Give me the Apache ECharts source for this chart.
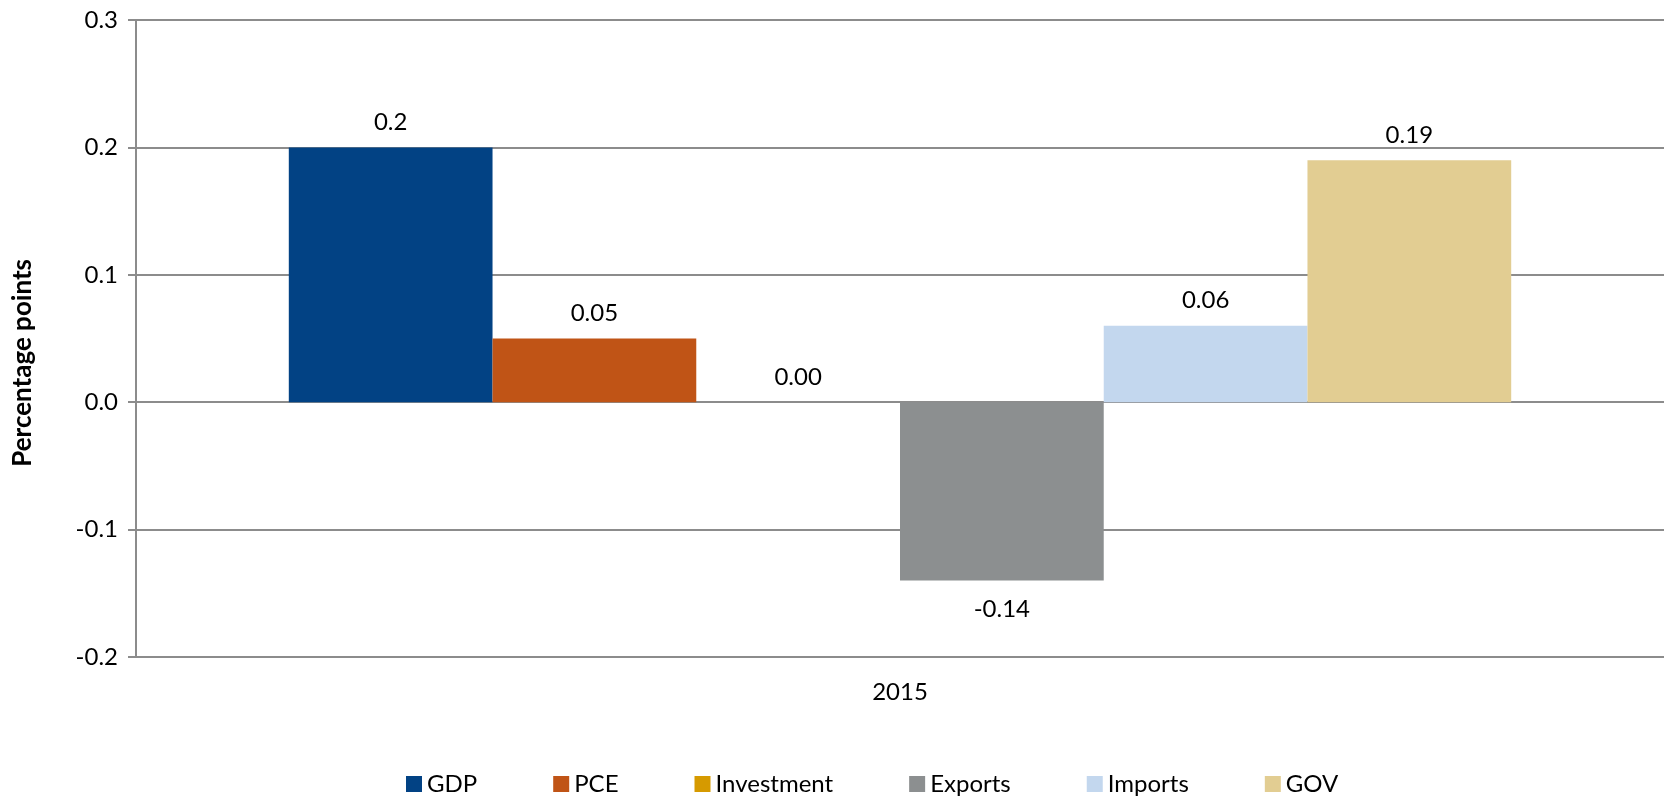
<!DOCTYPE html>
<html>
<head>
<meta charset="utf-8">
<title>Contributions, 2015</title>
<script src="https://cdn.jsdelivr.net/npm/echarts@6/dist/echarts.min.js"></script>
<style>
  html, body { margin: 0; padding: 0; background: #ffffff; }
  #chart { width: 1664px; height: 798px; }
</style>
</head>
<body>
<div id="chart"></div>
<script>
// Chart data
const categories = ['2015'];
const seriesNames = ['GDP', 'PCE', 'Investment', 'Exports', 'Imports', 'GOV'];
const seriesValues = [0.2, 0.05, 0.00, -0.14, 0.06, 0.19];
const valueLabels = ['0.2', '0.05', '0.00', '-0.14', '0.06', '0.19'];
const yTicks = { min: -0.2, max: 0.3, step: 0.1 };
const axisTitle = 'Percentage points';

const colors = ['#024284', '#C05416', '#D69A00', '#8C8F90', '#C3D7EE', '#E2CD92'];
const FONT = 'Lato';
const GRID_COLOR = '#8c8c8c';

const chart = echarts.init(document.getElementById('chart'), null, { renderer: 'canvas' });

const series = seriesNames.map((name, i) => ({
  name: name,
  type: 'bar',
  barGap: 0,
  barCategoryGap: '20%',
  itemStyle: { color: colors[i] },
  data: [{
    value: seriesValues[i],
    label: {
      show: true,
      position: seriesValues[i] < 0 ? 'bottom' : 'top',
      distance: seriesValues[i] < 0 ? 17 : 13,
      formatter: () => valueLabels[i],
      fontFamily: FONT,
      fontSize: 24,
      color: '#000'
    }
  }]
}));

chart.setOption({
  animation: false,
  color: colors,
  grid: { left: 136, right: 0, top: 20, bottom: 141, containLabel: false },
  legend: {
    top: 767,
    left: 401,
    itemWidth: 16,
    itemHeight: 16,
    itemGap: 76,
    icon: 'rect',
    textStyle: { fontFamily: FONT, fontSize: 24, color: '#000', padding: [0, 0, 0, 0] },
    data: seriesNames
  },
  xAxis: {
    type: 'category',
    data: categories,
    axisLine: { show: false },
    axisTick: { show: false },
    axisLabel: { margin: 23, fontFamily: FONT, fontSize: 24, color: '#000' }
  },
  yAxis: {
    type: 'value',
    min: yTicks.min,
    max: yTicks.max,
    interval: yTicks.step,
    axisLine: { show: true, lineStyle: { color: GRID_COLOR, width: 2 } },
    axisTick: { show: true, inside: false, length: 8, lineStyle: { color: GRID_COLOR, width: 2 } },
    splitLine: { show: true, lineStyle: { color: GRID_COLOR, width: 2 } },
    axisLabel: {
      margin: 18,
      fontFamily: FONT,
      fontSize: 24,
      color: '#000',
      formatter: v => v.toFixed(1)
    }
  },
  graphic: [{
    type: 'text',
    left: 10,
    top: 259,
    rotation: Math.PI / 2,
    style: {
      text: axisTitle,
      fontFamily: FONT,
      fontSize: 26,
      fontWeight: 'bold',
      fill: '#000'
    }
  }],
  series: series
});
</script>
</body>
</html>
